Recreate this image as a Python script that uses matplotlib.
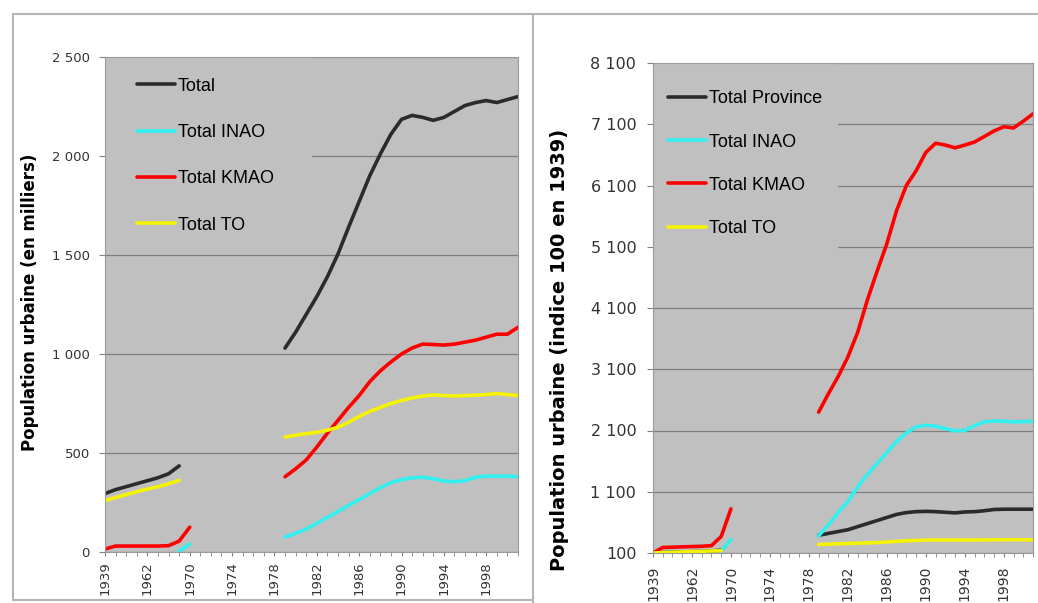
import numpy as np
import matplotlib
matplotlib.use("Agg")
import matplotlib.pyplot as plt
from matplotlib.lines import Line2D
from matplotlib.patches import Rectangle

# categories (labels shown every 4th)
years = ['1939', '1950', '1956', '1959', '1962', '1964', '1966', '1968', '1970',
         '1971', '1972', '1973', '1974', '1975', '1976', '1977', '1978', '1979',
         '1980', '1981', '1982', '1983', '1984', '1985', '1986', '1987', '1988',
         '1989', '1990', '1991', '1992', '1993', '1994', '1995', '1996', '1997',
         '1998', '1999', '2000', '2001']

labels_left = ['Total', 'Total INAO', 'Total KMAO', 'Total TO']
labels_right = ['Total Province', 'Total INAO', 'Total KMAO', 'Total TO']

# left: urban population (thousands)
total = [295, 315, 330, 345, 360, 375, 395, 435] + [None] * 9 + \
    [1030, 1110, 1200, 1290, 1390, 1505, 1640, 1770, 1900, 2010, 2110, 2185,
     2205, 2195, 2180, 2195, 2225, 2255, 2270, 2280, 2270, 2285, 2300]
inao = [None] * 7 + [5, 40] + [None] * 8 + \
    [75, 95, 115, 145, 175, 205, 235, 265, 295, 325, 350, 365, 375, 378, 370,
     358, 355, 360, 378, 383, 383, 383, 380]
kmao = [15, 30, 30, 30, 30, 30, 32, 55, 125] + [None] * 8 + \
    [380, 420, 465, 530, 600, 665, 730, 790, 860, 915, 960, 1000, 1030, 1050,
     1048, 1045, 1050, 1060, 1070, 1085, 1100, 1100, 1135]
to = [260, 275, 290, 305, 318, 330, 345, 362] + [None] * 9 + \
    [580, 590, 598, 605, 615, 630, 655, 685, 710, 730, 750, 765, 778, 788, 793,
     790, 788, 790, 792, 795, 800, 795, 790]

# right: index 100 in 1939
total_p = [100, 107, 112, 117, 122, 127, 134, 147] + [None] * 9 + \
    [390, 420, 450, 480, 530, 580, 630, 680, 730, 760, 775, 780, 775, 765, 755,
     770, 775, 790, 810, 815, 815, 815, 815]
inao_p = [None] * 7 + [130, 320] + [None] * 8 + \
    [380, 560, 760, 940, 1180, 1380, 1560, 1740, 1920, 2060, 2160, 2185, 2170,
     2130, 2095, 2100, 2180, 2240, 2255, 2250, 2240, 2245, 2250]
kmao_p = [100, 190, 195, 200, 205, 210, 220, 370, 820] + [None] * 8 + \
    [2400, 2700, 2980, 3300, 3700, 4230, 4700, 5150, 5690, 6100, 6340, 6640,
     6790, 6760, 6715, 6760, 6810, 6900, 6990, 7060, 7040, 7150, 7270]
to_p = [100, 106, 112, 117, 122, 127, 133, 139] + [None] * 9 + \
    [240, 245, 250, 255, 260, 265, 272, 280, 290, 300, 305, 310, 312, 312, 312,
     312, 312, 314, 315, 316, 316, 316, 315]

left_ticks = [0, 500, 1000, 1500, 2000, 2500]
right_ticks = [100, 1100, 2100, 3100, 4100, 5100, 6100, 7100, 8100]

colors = ['#2b2b2b', '#33f0f0', '#ff0000', '#f4f400']
W, H = 1038, 603


def arr(v):
    return np.array([np.nan if x is None else x for x in v], dtype=float)


def fmt(v):
    return f"{v:,}".replace(",", " ")


def setup(ax, series, labels, yticks, ylabel, tick_fs, xtick_fs, lab_fs,
          ylab_pos, leg_anchor, lab_spacing, cover, xpad, ypad):
    x = np.arange(len(years))
    ax.set_facecolor('#c0c0c0')
    ax.set_axisbelow(True)
    ax.yaxis.grid(True, color='#7f7f7f', lw=0.9)
    # legend area hides the gridlines, as in the original
    ax.add_patch(Rectangle((0, cover[1]), cover[0], 1 - cover[1],
                           transform=ax.transAxes, facecolor='#c0c0c0',
                           edgecolor='none', zorder=1))
    for s, c, lab in zip(series, colors, labels):
        ax.plot(x, arr(s), color=c, lw=2.6, label=lab, zorder=2,
                solid_capstyle='round')
    ax.set_xlim(0, len(years) - 1)
    ax.set_ylim(yticks[0], yticks[-1])
    ax.set_yticks(yticks)
    ax.set_yticklabels([fmt(v) for v in yticks], fontsize=tick_fs, color='#333333')
    ax.set_xticks(x[::4])
    ax.set_xticklabels(years[::4], rotation=90, fontsize=xtick_fs,
                       color='#333333', va='top')
    ax.set_xticks(x, minor=True)
    ax.tick_params(axis='y', length=4, color='#808080', pad=ypad)
    ax.tick_params(axis='x', which='both', length=3, color='#808080', pad=xpad)
    for sp in ax.spines.values():
        sp.set_color('#9a9a9a')
    ax.set_ylabel(ylabel, fontsize=lab_fs, fontweight='bold')
    ax.yaxis.set_label_coords(*ylab_pos)
    ax.legend(loc='upper left', bbox_to_anchor=leg_anchor, frameon=False,
              borderaxespad=0, borderpad=0, handlelength=2.1,
              handletextpad=0.15, labelspacing=lab_spacing,
              prop={'family': 'Liberation Sans', 'size': 13})


fig = plt.figure(figsize=(W / 100, H / 100), dpi=100)

ax1 = fig.add_axes([105 / W, 1 - 552 / H, 413 / W, 495 / H])
setup(ax1, [total, inao, kmao, to], labels_left, left_ticks,
      'Population urbaine (en milliers)', 9.5, 9.5, 12, (-0.16, 0.505),
      (0.078, 0.958), 1.62, (0.502, 0.63), 4, 7)

ax2 = fig.add_axes([653 / W, 1 - 553 / H, 380 / W, 490 / H])
setup(ax2, [total_p, inao_p, kmao_p, to_p], labels_right, right_ticks,
      'Population urbaine (indice 100 en 1939)', 11.5, 10, 14, (-0.222, 0.414),
      (0.04, 0.944), 1.45, (0.487, 0.57), 6, 8)

# panel frames
fc = '#b5b5b5'
fig.add_artist(Line2D([13 / W, 1], [1 - 14 / H, 1 - 14 / H], color=fc, lw=1.5))
fig.add_artist(Line2D([13 / W, 13 / W], [1 - 14 / H, 1 - 600 / H], color=fc, lw=1.5))
fig.add_artist(Line2D([533 / W, 533 / W], [1 - 14 / H, 1 - 603 / H], color=fc, lw=1.5))
fig.add_artist(Line2D([13 / W, 533 / W], [1 - 600 / H, 1 - 600 / H], color=fc, lw=1.5))

fig.savefig('out.png', dpi=100)
